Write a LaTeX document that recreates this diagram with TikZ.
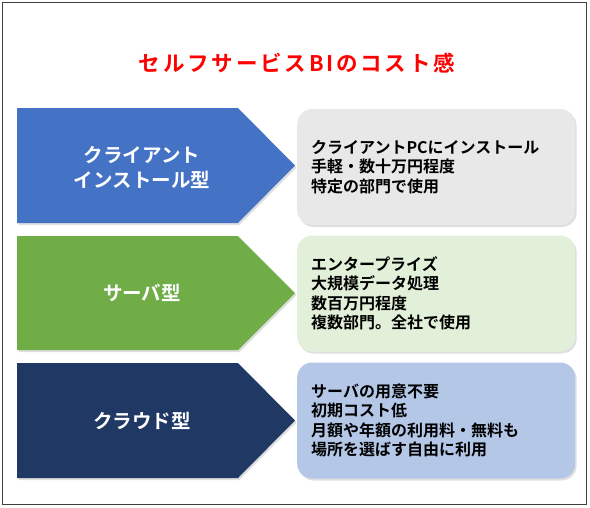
\documentclass[tikz,border=0pt]{standalone}
\usepackage{fontspec}
\newfontfamily\jptitle[LetterSpace=13]{Noto Sans CJK JP Bold}
\newfontfamily\jplabel{Noto Sans CJK JP Bold}
\newfontfamily\jptext{Noto Sans CJK JP Bold}
\usetikzlibrary{shadows}
\definecolor{clientblue}{HTML}{4472C4}
\definecolor{servergreen}{HTML}{70AD47}
\definecolor{cloudnavy}{HTML}{203864}
\definecolor{clientbox}{HTML}{E8E8E8}
\definecolor{serverbox}{HTML}{E2F0D9}
\definecolor{cloudbox}{HTML}{B4C7E7}
\definecolor{titlered}{HTML}{FF0000}

\begin{document}
\begin{tikzpicture}
  [x=1pt,y=-1pt,
   softshadow/.style={drop shadow={opacity=0.25,shadow xshift=1.5pt,shadow yshift=-2pt}},
   kind/.style={softshadow},
   kindlbl/.style={text=white,align=center,font={\jplabel\fontsize{19.5}{25}\selectfont}},
   infobox/.style={softshadow,rounded corners=15pt,minimum height=116pt,text width=250pt,
     inner xsep=14pt,align=left,anchor=west,font={\jptext\fontsize{16}{19.5}\selectfont}}]
  \useasboundingbox (0,0) rectangle (590,507);
  \draw[black!75,line width=0.8pt] (2.5,2.5) rectangle (586,504);

  \node[text=titlered,font={\jptitle\fontsize{21.5}{24}\selectfont}] (title) at (297,63) {セルフサービスBIのコスト感};

  % client
  \fill[clientblue,kind] (17,108) -- (238,108) -- (295,165.5) -- (238,223) -- (17,223) -- cycle;
  \node[kindlbl] (client) at (142,167) {クライアント\\インストール型};
  \node[infobox,fill=clientbox] (clientinfo) at (297,167)
    {クライアントPCにインストール\\手軽・数十万円程度\\特定の部門で使用};

  % server
  \fill[servergreen,kind] (17,236) -- (238,236) -- (295,293) -- (238,350) -- (17,350) -- cycle;
  \node[kindlbl] (server) at (142,293) {サーバ型};
  \node[infobox,fill=serverbox] (serverinfo) at (297,293.5)
    {エンタープライズ\\大規模データ処理\\数百万円程度\\複数部門。全社で使用};

  % cloud
  \fill[cloudnavy,kind] (17,363) -- (238,363) -- (295,420.5) -- (238,478) -- (17,478) -- cycle;
  \node[kindlbl] (cloud) at (142,420.5) {クラウド型};
  \node[infobox,fill=cloudbox] (cloudinfo) at (297,420.5)
    {サーバの用意不要\\初期コスト低\\月額や年額の利用料・無料も\\場所を選ばす自由に利用};
\end{tikzpicture}
\end{document}
